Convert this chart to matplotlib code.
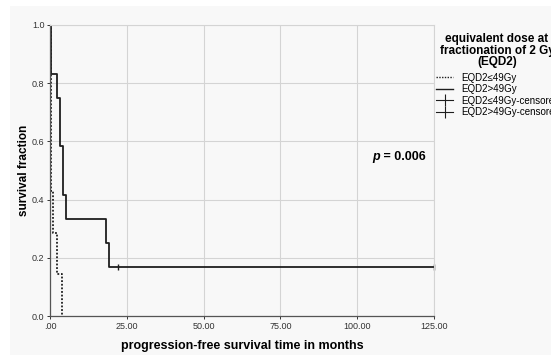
import matplotlib.pyplot as plt
from matplotlib.lines import Line2D
from matplotlib.patches import Rectangle

plt.rcParams['font.family'] = ['Liberation Sans', 'DejaVu Sans']

# step curves (time in months, survival fraction)
low_t = [0, 0.3, 1.1, 2.2, 4.0]
low_s = [1.0, 0.429, 0.286, 0.143, 0.0]

high_t = [0, 0.3, 2.2, 3.2, 4.1, 5.1, 18.3, 19.2, 125]
high_s = [1.0, 0.833, 0.75, 0.583, 0.417, 0.333, 0.25, 0.167, 0.167]

high_cens_t = [22.1, 125]
high_cens_s = [0.167, 0.167]

xticks = [0, 25, 50, 75, 100, 125]
xlabels = ['.00', '25.00', '50.00', '75.00', '100.00', '125.00']
yticks = [0.0, 0.2, 0.4, 0.6, 0.8, 1.0]

bg = '#f8f8f8'
ink = '#1e1e1e'

fig = plt.figure(figsize=(5.51, 3.58), dpi=100)
fig.patches.append(Rectangle((10 / 551, 3 / 358), 541 / 551, 349 / 358,
                             transform=fig.transFigure, facecolor=bg,
                             edgecolor='none', zorder=-1))

ax = fig.add_axes([50 / 551, 1 - 316 / 358, 384 / 551, 291 / 358])
ax.set_facecolor(bg)

ax.step(low_t, low_s, where='post', color=ink, lw=1.3, ls=(0, (1, 1)))
ax.step(high_t, high_s, where='post', color=ink, lw=1.3)
ax.plot(high_cens_t, high_cens_s, ls='none', marker='|', color=ink,
        markersize=5, mew=1, clip_on=False)

ax.set_xlim(0, 125)
ax.set_ylim(0, 1.0)
ax.set_xticks(xticks)
ax.set_xticklabels(xlabels)
ax.set_yticks(yticks)
ax.set_yticklabels(['%.1f' % v for v in yticks])
ax.tick_params(labelsize=6.5, length=2, width=0.7, colors='#333333', pad=2)
ax.grid(True, color='#d4d4d4', lw=0.8)
ax.set_axisbelow(True)
for side in ['top', 'right']:
    ax.spines[side].set_color('#d4d4d4')
    ax.spines[side].set_linewidth(0.8)
for side in ['left', 'bottom']:
    ax.spines[side].set_color('#555555')
    ax.spines[side].set_linewidth(0.9)

ax.set_xlabel('progression-free survival time in months', fontsize=9,
              fontweight='bold')
ax.set_ylabel('survival fraction', fontsize=8.5, fontweight='bold')
ax.xaxis.set_label_coords(0.5, -0.082)
ax.yaxis.set_label_coords(-0.052, 0.5)

ptxt = ax.text(104.8, 0.546, 'p', fontsize=9, fontweight='bold',
               style='italic', ha='left', va='center')
ax.annotate(' = 0.006', xy=(1, 0), xycoords=ptxt, va='bottom', ha='left',
            fontsize=9, fontweight='bold')

fig.text(497 / 551, 1 - 33 / 358,
         'equivalent dose at\nfractionation of 2 Gy\n(EQD2)',
         ha='center', va='top', fontsize=8.5, fontweight='bold',
         multialignment='center', linespacing=0.95)

handles = [
    Line2D([0], [0], color=ink, lw=1, ls=(0, (1, 1))),
    Line2D([0], [0], color=ink, lw=1),
    Line2D([0], [0], color=ink, lw=0.8, marker='|', markersize=8, mew=0.8),
    Line2D([0], [0], color=ink, lw=0.8, marker='|', markersize=8, mew=0.8),
]
labels = ['EQD2≤49Gy', 'EQD2>49Gy', 'EQD2≤49Gy-censored', 'EQD2>49Gy-censored']
leg = fig.legend(handles, labels, loc='upper left',
                 bbox_to_anchor=(427 / 551, 1 - 64 / 358),
                 frameon=False, fontsize=7, handlelength=1.8,
                 handletextpad=0.8, labelspacing=0.15)

fig.savefig('out.png', dpi=100, facecolor='white')
